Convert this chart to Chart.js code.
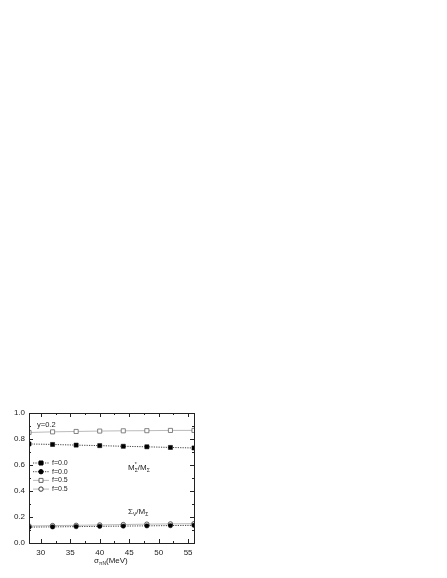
<!DOCTYPE html>
<html>
<head>
<meta charset="utf-8">
<script src="https://cdn.jsdelivr.net/npm/chart.js@4.4.1/dist/chart.umd.min.js"></script>
<style>
  html, body { margin: 0; padding: 0; background: #fff; }
  #wrap { width: 447px; height: 578px; }
</style>
</head>
<body>
<div id="wrap"><canvas id="chartSigma" width="447" height="578"></canvas></div>
<script>
// data
let sigmaN = [28, 32, 36, 40, 44, 48, 52, 56];
let mStarF0 = [0.762, 0.758, 0.753, 0.749, 0.744, 0.740, 0.735, 0.731];
let sigVF0 = [0.122, 0.124, 0.126, 0.128, 0.130, 0.132, 0.134, 0.136];
let mStarF5 = [0.850, 0.855, 0.858, 0.861, 0.863, 0.864, 0.866, 0.866];
let sigVF5 = [0.131, 0.134, 0.136, 0.139, 0.142, 0.145, 0.147, 0.149];
let legendLabels = ['f=0.0', 'f=0.0', 'f=0.5', 'f=0.5'];
let xTickLabels = [30, 35, 40, 45, 50, 55];
let yTickLabels = ['0.0', '0.2', '0.4', '0.6', '0.8', '1.0'];

let font = '"Liberation Sans", Arial, sans-serif';
let ink = '#222';

function pts(ys) {
  return sigmaN.map(function(x, i) { return {x: x, y: ys[i]}; });
}

// draws text pieces with sub / superscripts
function rich(ctx, parts, x, y) {
  let cx = x;
  parts.forEach(function(p) {
    ctx.font = p.size + 'px ' + font;
    ctx.fillText(p.t, cx, y + (p.dy || 0));
    if (!p.stay) cx = cx + ctx.measureText(p.t).width;
  });
}

let frame = {
  id: 'frame',
  afterDraw: function(chart) {
    let ctx = chart.ctx;
    let a = chart.chartArea;
    let xs = chart.scales.x, ys = chart.scales.y;
    ctx.save();
    ctx.strokeStyle = ink;
    ctx.lineWidth = 1;
    ctx.strokeRect(Math.round(a.left) + 0.5, Math.round(a.top) + 0.5,
      Math.round(a.right - a.left), Math.round(a.bottom - a.top));

    // inward ticks on all four sides
    ctx.beginPath();
    xs.ticks.forEach(function(t) {
      let v = t.value;
      let len = xTickLabels.indexOf(v) >= 0 ? 4 : 2;
      let px = Math.round(xs.getPixelForValue(v)) + 0.5;
      ctx.moveTo(px, a.bottom); ctx.lineTo(px, a.bottom - len);
      ctx.moveTo(px, a.top); ctx.lineTo(px, a.top + len);
    });
    ys.ticks.forEach(function(t) {
      let v = t.value;
      let len = yTickLabels.indexOf(v.toFixed(1)) >= 0 ? 4 : 2;
      let py = Math.round(ys.getPixelForValue(v)) + 0.5;
      ctx.moveTo(a.left, py); ctx.lineTo(a.left + len, py);
      ctx.moveTo(a.right, py); ctx.lineTo(a.right - len, py);
    });
    ctx.stroke();

    // legend: line sample, marker, label
    ctx.textBaseline = 'middle';
    ctx.fillStyle = ink;
    chart.data.datasets.forEach(function(ds, i) {
      let y = 463 + i * 8.7;
      ctx.save();
      ctx.strokeStyle = ds.borderColor;
      ctx.lineWidth = ds.borderWidth;
      ctx.setLineDash(ds.borderDash || []);
      ctx.beginPath();
      ctx.moveTo(33, y); ctx.lineTo(49, y);
      ctx.stroke();
      ctx.setLineDash([]);
      ctx.fillStyle = ds.pointBackgroundColor;
      ctx.strokeStyle = ds.pointBorderColor;
      ctx.lineWidth = 1;
      ctx.beginPath();
      if (ds.pointStyle === 'rect') {
        ctx.rect(39, y - 2, 4, 4);
      } else {
        ctx.arc(41, y, 2.2, 0, Math.PI * 2);
      }
      ctx.fill();
      ctx.stroke();
      ctx.restore();
      ctx.font = '7px ' + font;
      ctx.fillText(legendLabels[i], 52, y);
    });

    // annotations
    ctx.textBaseline = 'alphabetic';
    ctx.fillStyle = ink;
    rich(ctx, [{t: 'y=0.2', size: 7.5}], 37, 427);
    rich(ctx, [
      {t: 'M', size: 8},
      {t: '*', size: 5, dy: -4, stay: true},
      {t: '\u03A3', size: 5, dy: 2},
      {t: '/M', size: 8},
      {t: '\u03A3', size: 5, dy: 2}
    ], 128, 470);
    rich(ctx, [
      {t: '\u03A3', size: 8},
      {t: 'V', size: 5, dy: 2},
      {t: '/M', size: 8},
      {t: '\u03A3', size: 5, dy: 2}
    ], 128, 514);
    rich(ctx, [
      {t: '\u03C3', size: 8},
      {t: '\u03C0N', size: 5, dy: 2},
      {t: '(MeV)', size: 8}
    ], 94, 563);
    ctx.restore();
  }
};

let sigmaChart = new Chart(document.getElementById('chartSigma'), {
  type: 'line',
  data: {
    datasets: [{
      label: legendLabels[0],
      data: pts(mStarF0),
      borderColor: '#111', borderWidth: 0.8, borderDash: [1.2, 1.2],
      pointStyle: 'rect', pointRadius: 2.9,
      pointBackgroundColor: '#000', pointBorderColor: '#000', pointBorderWidth: 0.5
    }, {
      label: legendLabels[1],
      data: pts(sigVF0),
      borderColor: '#111', borderWidth: 0.8, borderDash: [1.2, 1.2],
      pointStyle: 'circle', pointRadius: 2.2,
      pointBackgroundColor: '#000', pointBorderColor: '#000', pointBorderWidth: 0.5
    }, {
      label: legendLabels[2],
      data: pts(mStarF5),
      borderColor: '#a8a8a8', borderWidth: 0.8,
      pointStyle: 'rect', pointRadius: 2.9,
      pointBackgroundColor: '#fff', pointBorderColor: '#666', pointBorderWidth: 0.8
    }, {
      label: legendLabels[3],
      data: pts(sigVF5),
      borderColor: '#a8a8a8', borderWidth: 0.8,
      pointStyle: 'circle', pointRadius: 2.2,
      pointBackgroundColor: '#fff', pointBorderColor: '#333', pointBorderWidth: 0.8
    }]
  },
  options: {
    responsive: false,
    animation: false,
    devicePixelRatio: 1,
    layout: { padding: { left: 0, right: 253, top: 413, bottom: 0 } },
    plugins: { legend: { display: false }, tooltip: { enabled: false } },
    scales: {
      x: {
        type: 'linear', min: 28, max: 56,
        grid: { display: false, drawTicks: false },
        border: { display: false },
        afterFit: function(s) { s.height = 35; },
        // majors at the labelled values, minors half way between
        afterBuildTicks: function(s) {
          let t = [];
          xTickLabels.forEach(function(v) {
            t.push({value: v});
            if (v + 2.5 <= s.max) t.push({value: v + 2.5});
          });
          s.ticks = t;
        },
        ticks: {
          autoSkip: false, maxRotation: 0, padding: 5,
          color: ink, font: { family: font, size: 8 },
          callback: function(v) { return xTickLabels.indexOf(v) >= 0 ? String(v) : ''; }
        }
      },
      y: {
        min: 0, max: 1,
        grid: { display: false, drawTicks: false },
        border: { display: false },
        afterFit: function(s) { s.width = 29; },
        ticks: {
          stepSize: 0.1, autoSkip: false, padding: 4,
          color: ink, font: { family: font, size: 8 },
          callback: function(v) {
            let s = v.toFixed(1);
            return yTickLabels.indexOf(s) >= 0 ? s : '';
          }
        }
      }
    }
  },
  plugins: [frame]
});
</script>
</body>
</html>
